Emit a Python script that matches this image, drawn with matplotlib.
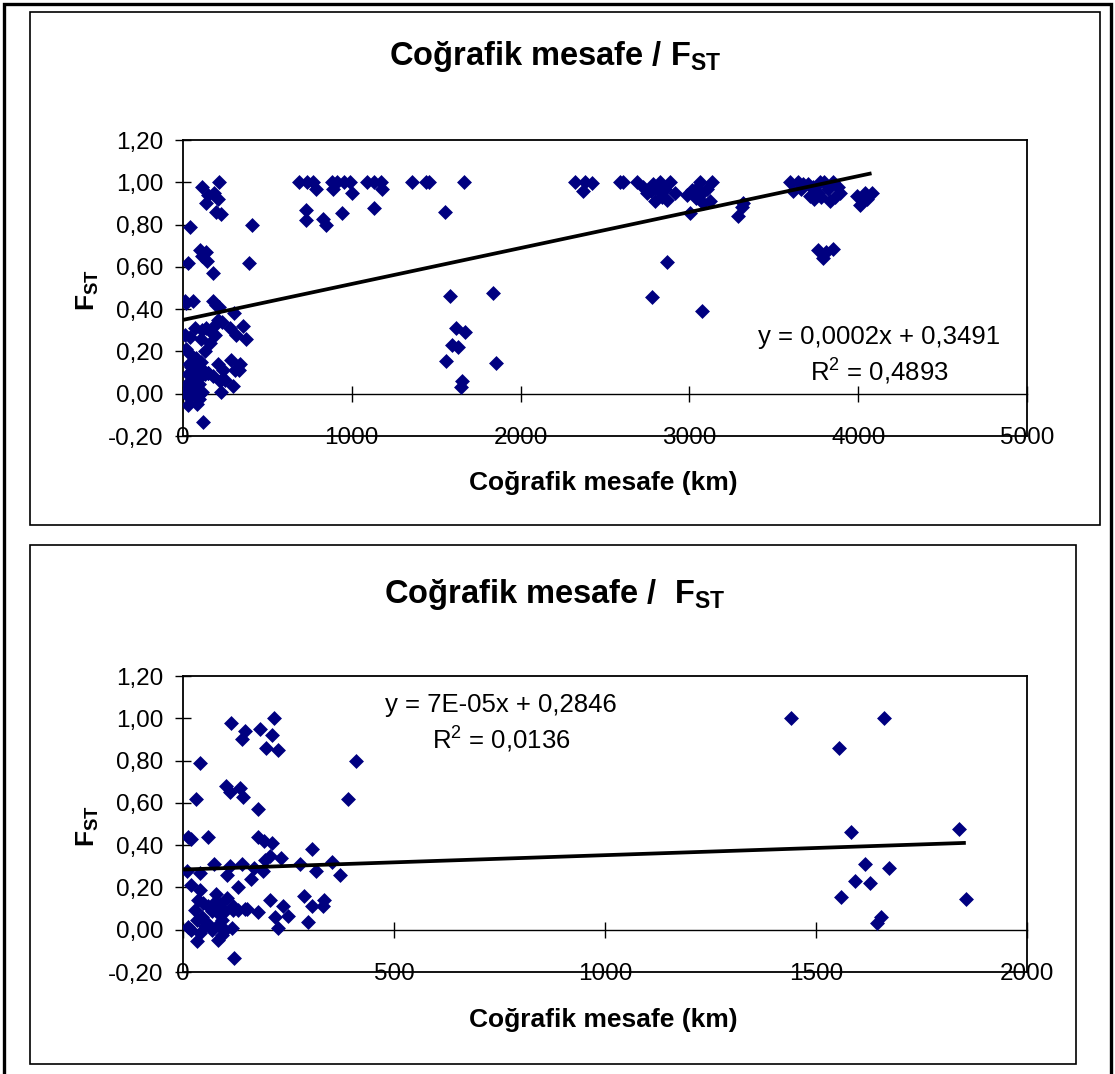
import matplotlib
matplotlib.use("Agg")
import matplotlib.pyplot as plt
from matplotlib.patches import Rectangle
import numpy as np

plt.rcParams['font.family'] = ['Liberation Sans', 'DejaVu Sans']
plt.rcParams['mathtext.fontset'] = 'custom'
plt.rcParams['mathtext.rm'] = 'Liberation Sans'
plt.rcParams['mathtext.bf'] = 'Liberation Sans:bold'
plt.rcParams['mathtext.it'] = 'Liberation Sans:italic'

# ---------------- data ----------------
# pairs with distance < 2000 km (shown in both charts)
dist_near = [114, 148, 139, 182, 215, 210, 196, 226,
             40, 410,
             101, 111, 135, 141, 31, 390, 178,
             11, 20, 60, 177, 193, 211, 305,
             9, 40, 73, 104, 111, 139, 160, 168, 189, 194, 206, 232, 278, 315, 353, 373,
             131, 19, 40, 78, 104, 36, 206, 286, 335, 237, 306, 331, 151, 177, 249, 217,
             296, 226, 28, 32, 12, 20, 40, 32, 84, 92, 115, 120, 119, 52, 68, 100, 92, 100,
             48, 60, 68, 80, 119, 131, 147, 84, 44, 56, 75, 88,
             1440, 1555, 1584, 1593, 1617, 1628, 1560, 1645, 1655, 1662, 1672, 1838, 1855]
fst_near = [0.98, 0.94, 0.90, 0.95, 1.00, 0.92, 0.86, 0.85,
            0.79, 0.80,
            0.68, 0.65, 0.67, 0.63, 0.62, 0.62, 0.57,
            0.44, 0.43, 0.44, 0.44, 0.42, 0.41, 0.38,
            0.28, 0.27, 0.31, 0.26, 0.30, 0.31, 0.24, 0.29, 0.28, 0.33, 0.35, 0.34, 0.31, 0.28, 0.32, 0.26,
            0.20, 0.21, 0.19, 0.17, 0.15, 0.14, 0.14, 0.16, 0.14, 0.11, 0.11, 0.11, 0.10, 0.085, 0.066, 0.058,
            0.038, 0.008, 0.095, 0.047, 0.014, 0.0, -0.016, -0.055, -0.047, -0.024, 0.008, -0.135, 0.095, 0.016, 0.0, 0.0, 0.047, 0.087,
            0.126, 0.11, 0.087, 0.082, 0.11, 0.095, 0.10, 0.024, 0.06, 0.03, 0.13, 0.12,
            1.00, 0.86, 0.46, 0.23, 0.31, 0.22, 0.155, 0.03, 0.06, 1.00, 0.29, 0.475, 0.145]

# additional pairs only in the full chart
dist_far = [689, 733, 768, 786, 881, 886, 910, 954, 989, 999, 1088, 1131, 1171, 1177, 1131,
            729, 729, 831, 845, 944, 1355, 1455,
            2322, 2381, 2421, 2372, 2589, 2609, 2688, 2727, 2747, 2786, 2796, 2826, 2855, 2885,
            2915, 2835, 2865, 2770, 2810, 3013, 3004, 3042, 3072, 3082, 3131, 3122, 3102, 2983,
            3042, 3060, 3309, 3290, 3320, 2865, 2780, 3077,
            3596, 3645, 3616, 3674, 3714, 3734, 3773, 3780, 3833, 3852, 3881, 3892, 3820, 3760,
            3700, 3660, 3763, 3793, 3852, 3810, 3990, 4010, 4040, 4079, 4050, 3800, 3860, 3740]
fst_far = [1.0, 1.0, 1.0, 0.97, 1.0, 0.97, 1.0, 1.0, 1.0, 0.95, 1.0, 1.0, 1.0, 0.97, 0.88,
           0.87, 0.82, 0.826, 0.80, 0.854, 1.0, 1.0,
           1.0, 1.0, 0.996, 0.957, 1.0, 1.0, 1.0, 0.98, 0.95, 0.99, 0.91, 1.0, 0.97, 1.0,
           0.95, 0.93, 0.917, 0.96, 0.97, 0.965, 0.854, 0.925, 0.95, 0.90, 1.0, 0.91, 0.97, 0.94,
           0.97, 1.0, 0.885, 0.84, 0.90, 0.625, 0.457, 0.39,
           1.0, 1.0, 0.957, 0.99, 0.933, 0.98, 1.0, 0.93, 0.91, 1.0, 0.98, 0.95, 0.97, 0.95,
           0.99, 0.97, 0.68, 0.64, 0.684, 0.67, 0.933, 0.894, 0.95, 0.95, 0.92, 1.0, 0.93, 0.92]

# trendline coefficients (slope, intercept)
trend_all = [0.00017, 0.3491]
trend_near = [0.000068, 0.2846]

eq_all = ["y = 0,0002x + 0,3491", "R$^2$ = 0,4893"]
eq_near = ["y = 7E-05x + 0,2846", "R$^2$ = 0,0136"]

yticks = [-0.2, 0.0, 0.2, 0.4, 0.6, 0.8, 1.0, 1.2]
ytick_labels = ["-0,20", "0,00", "0,20", "0,40", "0,60", "0,80", "1,00", "1,20"]
xticks_all = [0, 1000, 2000, 3000, 4000, 5000]
xticks_near = [0, 500, 1000, 1500, 2000]

title_all = r"Coğrafik mesafe / F$_{\mathbf{ST}}$"
title_near = r"Coğrafik mesafe /  F$_{\mathbf{ST}}$"
xlabel = "Coğrafik mesafe (km)"
ylabel = r"F$_{\mathbf{ST}}$"

# ---------------- figure ----------------
W, H = 1115, 1074
fig = plt.figure(figsize=(W / 100, H / 100), dpi=100)


def fx(x):
    return x / W


def fy(y):
    return 1 - y / H


def add_rect(x0, y0, x1, y1, lw, color='black'):
    fig.add_artist(Rectangle((fx(x0), fy(y1)), fx(x1) - fx(x0), fy(y0) - fy(y1),
                             transform=fig.transFigure, fill=False, lw=lw,
                             edgecolor=color, zorder=0))


# outer border and panel borders
add_rect(4, 4, 1111, 1090, 2.4)
add_rect(30, 12, 1100, 525, 1.2)
add_rect(30, 545, 1076, 1064, 1.2)

marker_color = '#000080'


def make_panel(top_px, xs, ys, xmax, xticks, trend, eqs, eq_pos, title, title_y, xlabel_y):
    left, right = 183, 1027
    bottom = top_px + 296
    ax = fig.add_axes([fx(left), fy(bottom), fx(right) - fx(left), fy(top_px) - fy(bottom)])
    ax.set_xlim(0, xmax)
    ax.set_ylim(-0.2, 1.2)
    ax.patch.set_alpha(0)
    ax.scatter(xs, ys, marker='D', s=7.6 ** 2, color=marker_color, linewidths=0, zorder=3)
    xline = np.array([0, max(xs)])
    ax.plot(xline, trend[0] * xline + trend[1], color='black', lw=2.7, zorder=4,
            solid_capstyle='butt')
    # frame
    for s in ['top', 'right']:
        ax.spines[s].set_color('black')
        ax.spines[s].set_linewidth(1.3)
    ax.spines['left'].set_linewidth(1.3)
    ax.spines['bottom'].set_position(('data', 0))
    ax.spines['bottom'].set_linewidth(1.0)
    ax.plot([0, 1], [0, 0], transform=ax.transAxes, color='black', lw=1.3, clip_on=False)
    ax.set_yticks(yticks)
    ax.set_yticklabels(ytick_labels)
    ax.set_xticks(xticks)
    ax.set_xticklabels([str(t) for t in xticks])
    ax.tick_params(axis='y', direction='inout', length=11, width=1, pad=8.5, labelsize=17.5)
    ax.tick_params(axis='x', direction='inout', length=11, width=1, pad=18.5, labelsize=17.5)
    # equation text
    fig.text(fx(eq_pos[0]), fy(eq_pos[1]), eqs[0], ha='center', va='center', fontsize=18.5)
    fig.text(fx(eq_pos[0]), fy(eq_pos[1] + 35), eqs[1], ha='center', va='center', fontsize=18.5)
    # titles and labels
    fig.text(fx(555), fy(title_y), title, ha='center', va='center', fontsize=23.5,
             fontweight='bold')
    fig.text(fx(603), fy(xlabel_y), xlabel, ha='center', va='center', fontsize=19,
             fontweight='bold')
    fig.text(fx(88), fy(top_px + 150), ylabel, ha='center', va='center', fontsize=19,
             fontweight='bold', rotation=90)
    return ax


all_x = dist_near + dist_far
all_y = fst_near + fst_far
make_panel(140, all_x, all_y, 5000, xticks_all, trend_all, eq_all, (879, 337),
           title_all, 57, 483)
make_panel(676, dist_near, fst_near, 2000, xticks_near, trend_near, eq_near, (501, 705),
           title_near, 594, 1020)

fig.savefig("out.png", dpi=100)
